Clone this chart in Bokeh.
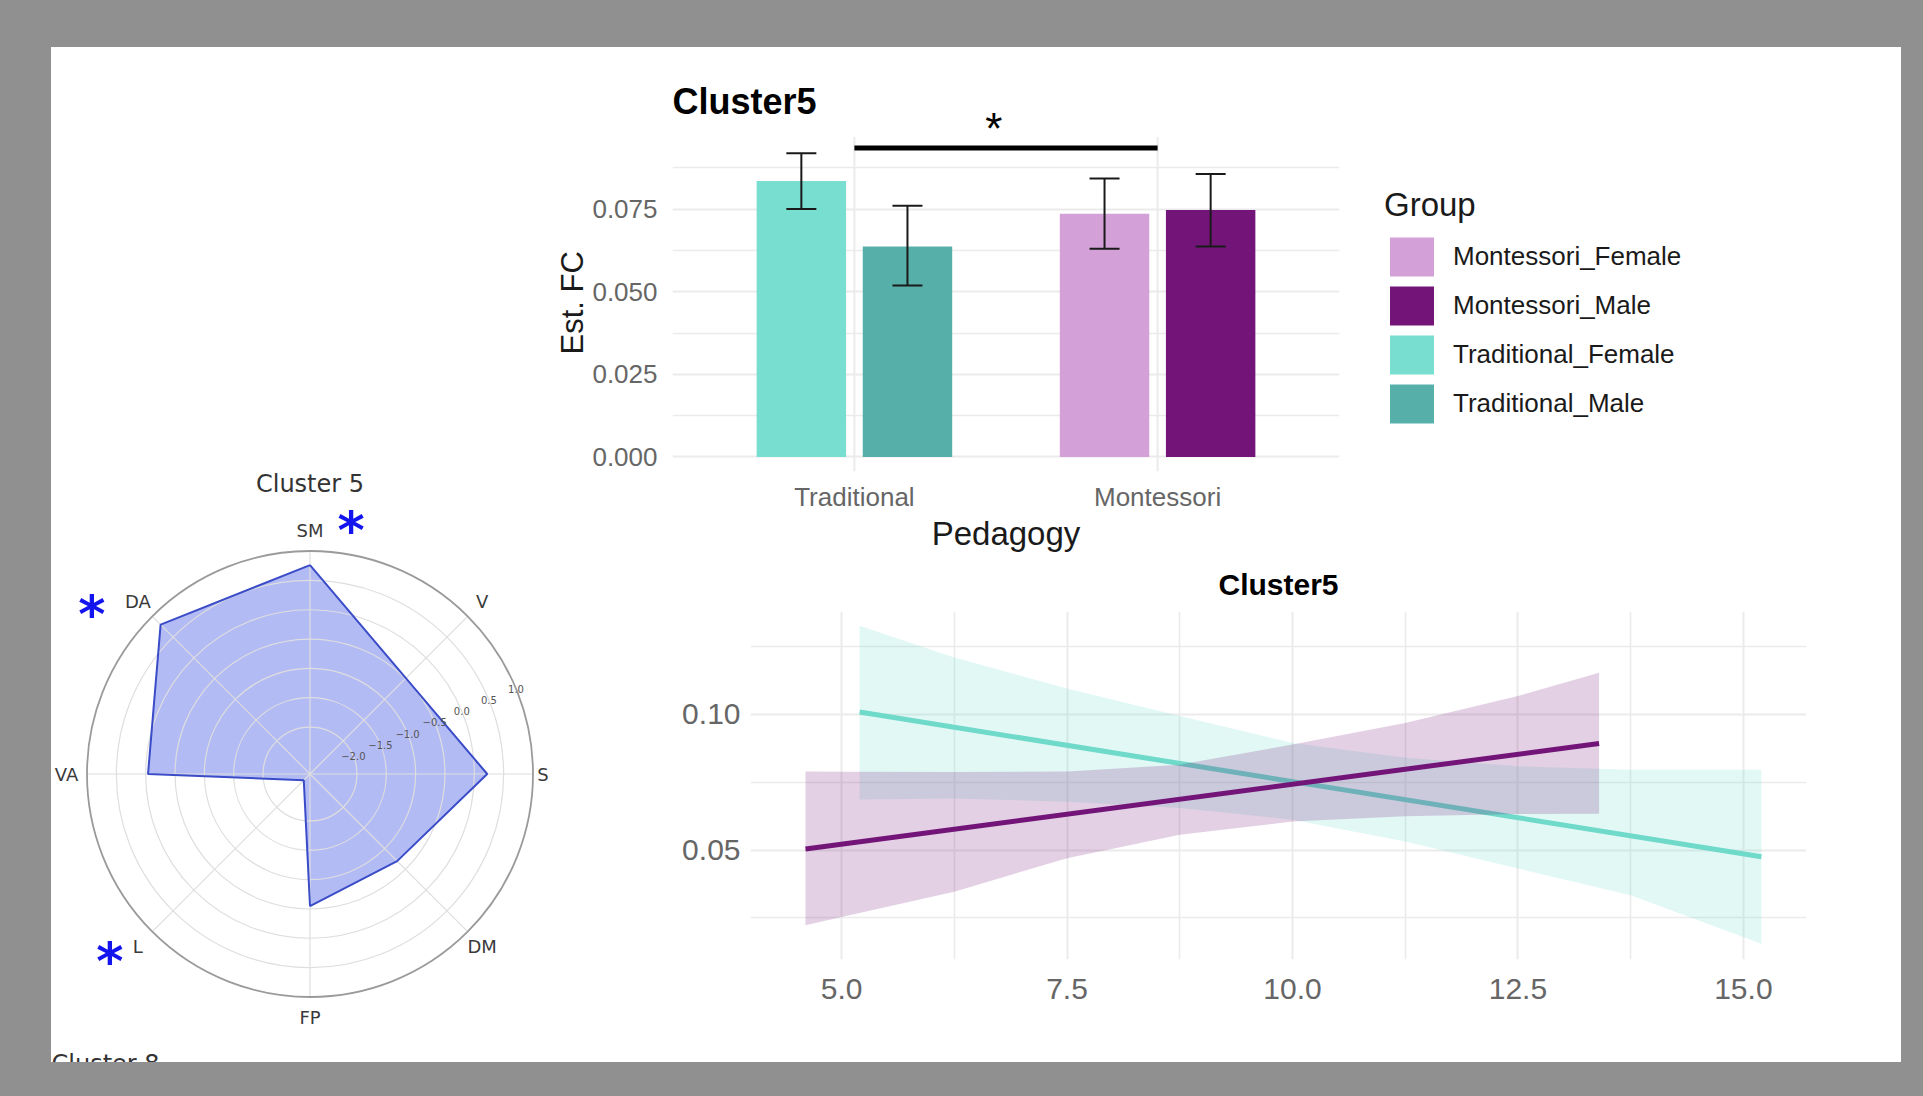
import numpy as np
from bokeh.plotting import figure
from bokeh.models import (ColumnDataSource, FactorRange, Range1d, FixedTicker, Whisker, TeeHead,
                          Legend, LegendItem, Spacer, PrintfTickFormatter, Title)
from bokeh.layouts import column, row
from bokeh.transform import dodge
from bokeh.core.properties import value
from bokeh.embed import file_html
from bokeh.resources import INLINE

try:
    from bokeh.models import GlobalInlineStyleSheet
except Exception:
    GlobalInlineStyleSheet = None

# ---------------- data: bar chart ----------------
pedagogy = ["Traditional", "Montessori"]
female_est = [0.0835, 0.0736]
female_low = [0.0750, 0.0630]
female_high = [0.0919, 0.0843]
male_est = [0.0637, 0.0747]
male_low = [0.0519, 0.0637]
male_high = [0.0760, 0.0856]
group_labels = ["Montessori_Female", "Montessori_Male", "Traditional_Female", "Traditional_Male"]
bar_y_ticks = [0.0, 0.025, 0.05, 0.075]
bar_y_minor = [0.0125, 0.0375, 0.0625, 0.0875]
bar_title = "Cluster5"
sig_level = 0.0935
sig_star_level = 0.0995

# ---------------- data: line chart ----------------
trad_line_x = [5.2, 15.2]
trad_line_y = [0.1009, 0.0475]
mont_line_x = [4.6, 13.4]
mont_line_y = [0.0504, 0.0893]
trad_band_x = [5.2, 6.25, 7.5, 8.75, 10.0, 11.25, 12.5, 13.75, 15.2]
trad_band_hi = [0.1327, 0.1210, 0.1096, 0.0994, 0.0895, 0.0840, 0.0809, 0.0796, 0.0796]
trad_band_lo = [0.0686, 0.0690, 0.0678, 0.0655, 0.0612, 0.0531, 0.0432, 0.0333, 0.0154]
mont_band_x = [4.6, 5.0, 6.25, 7.5, 8.75, 10.0, 11.25, 12.5, 13.4]
mont_band_hi = [0.0790, 0.0789, 0.0788, 0.0790, 0.0815, 0.0889, 0.0969, 0.1068, 0.1154]
mont_band_lo = [0.0222, 0.0253, 0.0346, 0.0470, 0.0556, 0.0605, 0.0625, 0.0633, 0.0634]
line_x_ticks = [5.0, 7.5, 10.0, 12.5, 15.0]
line_x_minor = [6.25, 8.75, 11.25, 13.75]
line_y_ticks = [0.05, 0.10]
line_y_minor = [0.025, 0.075, 0.125]

# ---------------- data: radar chart ----------------
radar_axes = ["SM", "V", "S", "DM", "FP", "L", "VA", "DA"]
radar_values = [0.76, -0.49, 0.22, -0.70, -0.55, -2.65, -0.04, 0.80]
radar_ticks = [-2.0, -1.5, -1.0, -0.5, 0.0, 0.5, 1.0]
radar_rmin, radar_rmax = -2.8, 1.0
radar_starred = ["SM", "DA", "L"]

# ---------------- styles ----------------
TF, TM, MF, MM = "#77DED0", "#56AFA8", "#D4A0D8", "#731479"
RFONT = value("DejaVu Sans")
LFONT = value("Liberation Sans")
TICK_C = "#666666"
GRID_C = "#EBEBEB"
GREY_BG = "#909090"


def unalign(p):
    try:
        p.frame_align = False
    except Exception:
        pass


# ======================= bar chart =======================
p1 = figure(width=830, height=507,
            x_range=FactorRange(factors=pedagogy, range_padding=0.1, range_padding_units="absolute"),
            y_range=Range1d(-0.0044, 0.12391),
            output_backend="svg", toolbar_location=None,
            min_border_left=122, min_border_right=41, min_border_top=0, min_border_bottom=81)
unalign(p1)
p1.outline_line_color = None
p1.xgrid.grid_line_color = None
p1.ygrid.grid_line_color = GRID_C
p1.ygrid.grid_line_width = 2
p1.ygrid.minor_grid_line_color = GRID_C
p1.ygrid.minor_grid_line_width = 1.6

# vertical grid lines at the categories (panel height only)
p1.segment(x0=pedagogy, x1=pedagogy, y0=[-0.0044] * 2, y1=[0.0968] * 2,
           line_color=GRID_C, line_width=2)

src_f = ColumnDataSource(dict(ped=pedagogy, est=female_est, lo=female_low, hi=female_high,
                              color=[TF, MF]))
src_m = ColumnDataSource(dict(ped=pedagogy, est=male_est, lo=male_low, hi=male_high,
                              color=[TM, MM]))
OFF, BW = 0.175, 0.295
p1.vbar(x=dodge("ped", -OFF, range=p1.x_range), top="est", bottom=0, width=BW,
        source=src_f, fill_color="color", line_color=None)
p1.vbar(x=dodge("ped", OFF, range=p1.x_range), top="est", bottom=0, width=BW,
        source=src_m, fill_color="color", line_color=None)
for src, off in ((src_f, -OFF), (src_m, OFF)):
    w = Whisker(source=src, base=dodge("ped", off, range=p1.x_range),
                upper="hi", lower="lo", line_color="#1a1a1a", line_width=2,
                upper_head=TeeHead(size=30, line_width=2, line_color="#1a1a1a"),
                lower_head=TeeHead(size=30, line_width=2, line_color="#1a1a1a"))
    w.level = "overlay"
    p1.add_layout(w)

p1.segment(x0=[pedagogy[0]], x1=[pedagogy[1]], y0=[sig_level], y1=[sig_level],
           line_width=5, line_color="black")
p1.text(x=[0.96], y=[sig_star_level], text=["*"], text_font=LFONT, text_font_size="44px",
        text_align="center", text_baseline="middle", text_color="black")
p1.text(x=[-0.1], y=[0.10753], text=[bar_title], text_font=LFONT, text_font_size="36px",
        text_font_style="bold", text_align="left", text_baseline="middle", text_color="black")

p1.yaxis.ticker = FixedTicker(ticks=bar_y_ticks, minor_ticks=bar_y_minor)
p1.yaxis.formatter = PrintfTickFormatter(format="%.3f")
p1.yaxis.major_label_standoff = 15
p1.xaxis.axis_label = "Pedagogy"
p1.xaxis.axis_label_text_font = "Liberation Sans"
p1.xaxis.axis_label_text_font_size = "33px"
p1.xaxis.axis_label_text_font_style = "normal"
p1.xaxis.axis_label_text_color = "#1a1a1a"
p1.xaxis.axis_label_standoff = 0
p1.xaxis.major_label_standoff = 10
for ax in (p1.xaxis, p1.yaxis):
    ax.axis_line_color = None
    ax.major_tick_line_color = None
    ax.minor_tick_line_color = None
    ax.major_tick_out = 0
    ax.minor_tick_out = 0
    ax.major_label_text_font = "Liberation Sans"
    ax.major_label_text_font_size = "26px"
    ax.major_label_text_color = TICK_C

est_title = Title(text="Est. FC", align="left", offset=117, standoff=0,
                  text_font="Liberation Sans", text_font_size="31px",
                  text_font_style="normal", text_color="#1a1a1a")
p1.add_layout(est_title, "left")

# ---- legend panel (own canvas, same sources / colours as the bars) ----
pl = figure(width=521, height=507, x_range=FactorRange(factors=pedagogy), y_range=Range1d(1.0, 2.0),
            x_axis_type=None, y_axis_type=None, min_border=0,
            output_backend="svg", toolbar_location=None)
unalign(pl)
pl.outline_line_color = None
pl.xgrid.grid_line_color = None
pl.ygrid.grid_line_color = None
lr_f = pl.vbar(x="ped", top="est", bottom=0, width=BW, source=src_f, fill_color="color", line_color=None)
lr_m = pl.vbar(x="ped", top="est", bottom=0, width=BW, source=src_m, fill_color="color", line_color=None)
legend = Legend(items=[
    LegendItem(label=group_labels[0], renderers=[lr_f], index=1),
    LegendItem(label=group_labels[1], renderers=[lr_m], index=1),
    LegendItem(label=group_labels[2], renderers=[lr_f], index=0),
    LegendItem(label=group_labels[3], renderers=[lr_m], index=0),
], location=(4, 126), title="Group")
legend.border_line_color = None
legend.background_fill_alpha = 0
legend.padding = 0
legend.margin = 0
legend.spacing = 0
legend.glyph_width = 55
legend.glyph_height = 49
legend.label_standoff = 14
legend.label_text_font = "Liberation Sans"
legend.label_text_font_size = "26px"
legend.label_text_color = "#1a1a1a"
legend.label_text_baseline = "middle"
legend.title_text_font = "Liberation Sans"
legend.title_text_font_size = "33px"
legend.title_text_font_style = "normal"
legend.title_text_color = "#1a1a1a"
legend.title_standoff = 8
pl.add_layout(legend)

# ======================= line chart =======================
p2 = figure(width=1351, height=508, x_range=Range1d(3.99, 15.70), y_range=Range1d(0.0096, 0.138),
            output_backend="svg", toolbar_location=None,
            min_border_left=200, min_border_right=95, min_border_top=57, min_border_bottom=103,
            title="Cluster5")
unalign(p2)
p2.outline_line_color = None
p2.title.text_font = "Liberation Sans"
p2.title.text_font_size = "30px"
p2.title.text_font_style = "bold"
p2.title.text_color = "black"
p2.title.align = "center"
p2.title.standoff = 21

p2.varea(x=trad_band_x, y1=trad_band_lo, y2=trad_band_hi, fill_color=TF, fill_alpha=0.22)
p2.line(trad_line_x, trad_line_y, line_color="#6FD9CA", line_width=5)
p2.varea(x=mont_band_x, y1=mont_band_lo, y2=mont_band_hi, fill_color=MM, fill_alpha=0.2)
p2.line(mont_line_x, mont_line_y, line_color=MM, line_width=5)

p2.xaxis.ticker = FixedTicker(ticks=line_x_ticks, minor_ticks=line_x_minor)
p2.xaxis.formatter = PrintfTickFormatter(format="%.1f")
p2.yaxis.ticker = FixedTicker(ticks=line_y_ticks, minor_ticks=line_y_minor)
p2.yaxis.formatter = PrintfTickFormatter(format="%.2f")
for ax in (p2.xaxis, p2.yaxis):
    ax.axis_line_color = None
    ax.major_tick_line_color = None
    ax.minor_tick_line_color = None
    ax.major_tick_out = 0
    ax.minor_tick_out = 0
    ax.major_label_text_font = "Liberation Sans"
    ax.major_label_text_font_size = "30px"
    ax.major_label_text_color = TICK_C
p2.xaxis.major_label_standoff = 19
p2.yaxis.major_label_standoff = 10
for g in (p2.xgrid, p2.ygrid):
    g.grid_line_color = GRID_C
    g.grid_line_width = 2
    g.minor_grid_line_color = GRID_C
    g.minor_grid_line_width = 1.6

# ======================= radar chart =======================
PX = 223.0   # pixels per unit radius
p3 = figure(width=499, height=612,
            x_range=Range1d(-1.1592, 1.0785), y_range=Range1d(-1.2937, 1.4507),
            x_axis_type=None, y_axis_type=None, min_border=0,
            output_backend="svg", toolbar_location=None)
unalign(p3)
p3.outline_line_color = None

n = len(radar_axes)
ang = np.deg2rad(90.0 - 360.0 / n * np.arange(n))
rnorm = (np.array(radar_values) - radar_rmin) / (radar_rmax - radar_rmin)
poly_x = rnorm * np.cos(ang)
poly_y = rnorm * np.sin(ang)

p3.patch(list(poly_x), list(poly_y), fill_color="#4a5ee8", fill_alpha=0.42, line_color=None)
ring_r = [(t - radar_rmin) / (radar_rmax - radar_rmin) for t in radar_ticks if t < radar_rmax]
p3.circle(x=[0.0] * len(ring_r), y=[0.0] * len(ring_r), radius=ring_r,
          fill_color=None, line_color="#dedede", line_width=1.2)
p3.segment(x0=[0.0] * n, y0=[0.0] * n, x1=list(np.cos(ang)), y1=list(np.sin(ang)),
           line_color="#dedede", line_width=1.2)
p3.line(list(np.append(poly_x, poly_x[0])), list(np.append(poly_y, poly_y[0])),
        line_color="#3a4cc8", line_width=2)
p3.circle(x=[0.0], y=[0.0], radius=[1.0], fill_color=None, line_color="#9a9a9a", line_width=1.8)

rl_ang = np.deg2rad(22.5)
rl_r = np.array(ring_r + [1.0])
p3.text(x=list(rl_r * np.cos(rl_ang)), y=list(rl_r * np.sin(rl_ang)),
        text=[("%.1f" % t).replace("-", "\u2212") for t in radar_ticks],
        text_font=RFONT, text_font_size="10px", text_color="#555555",
        text_align="center", text_baseline="middle")

lab_r = np.array([1.045 if a == "S" else 1.092 for a in radar_axes])
lab_x = lab_r * np.cos(ang)
lab_y = lab_r * np.sin(ang)
p3.text(x=list(lab_x), y=list(lab_y), text=radar_axes, text_font=RFONT, text_font_size="18px",
        text_color="#3a3a3a", text_align="center", text_baseline="middle")

star_off = {"SM": (41, -6), "DA": (-46, 6), "L": (-28, 9)}
sx, sy = [], []
for a in radar_starred:
    i = radar_axes.index(a)
    dx, dy = star_off[a]
    sx.append(lab_x[i] + dx / PX)
    sy.append(lab_y[i] - dy / PX - 6 / PX)
p3.text(x=sx, y=sy, text=["*"] * len(sx), text_font=RFONT, text_font_size="52px",
        text_font_style="bold", text_color="#1414EE", text_align="center", text_baseline="middle")

p3.text(x=[0.0], y=[(773.5 - 483.0) / PX], text=["Cluster 5"], text_font=RFONT,
        text_font_size="24px", text_color="#333333", text_align="center", text_baseline="middle")
p3.text(x=[-1.1592], y=[(773.5 - 1049.0) / PX], text=["Cluster 8"], text_font=RFONT,
        text_font_size="24px", text_color="#333333", text_align="left", text_baseline="top")

# ======================= layout =======================
left_col = column(Spacer(width=499, height=403), p3)
right_col = column(row(p1, pl), p2)
panel = row(left_col, right_col, styles={"background-color": "white"})
root = column(Spacer(width=1915, height=47),
              row(Spacer(width=51, height=1015), panel, Spacer(width=14, height=1015)),
              Spacer(width=1915, height=26),
              styles={"background-color": GREY_BG})
if GlobalInlineStyleSheet is not None:
    root.stylesheets = [GlobalInlineStyleSheet(css="html, body { background-color: %s; }" % GREY_BG)]

open("out.html", "w").write(file_html(root, INLINE))
